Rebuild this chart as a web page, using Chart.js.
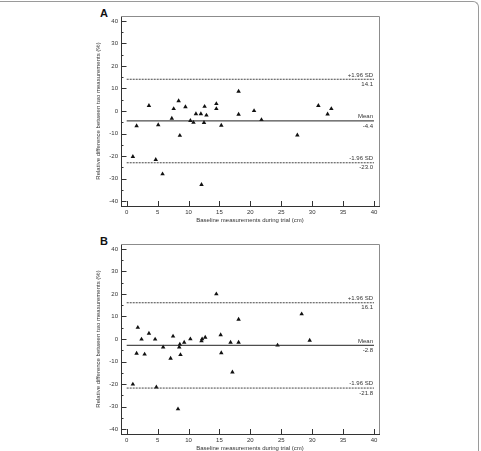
<!DOCTYPE html>
<html>
<head>
<meta charset="utf-8">
<script src="https://cdn.jsdelivr.net/npm/chart.js@4"></script>
<style>
    body { margin: 0; width: 481px; height: 451px; overflow: hidden; position: relative; background: #fff; font-family: "Liberation Sans", Arial, sans-serif; }
    .marco { position: absolute; left: -6px; top: 1px; width: 485px; height: 470px; border-top: 1px solid #9a9a9a; border-right: 1px solid #9a9a9a; border-top-right-radius: 6px; box-sizing: border-box; }
    canvas { position: absolute; left: 0; }
    .letra { position: absolute; left: 100px; font-weight: bold; font-size: 11px; line-height: 11px; color: #111; }
</style>
</head>
<body>
<div class="marco"></div>
<div class="letra" style="top:8px">A</div>
<canvas id="chartA" width="481" height="223" style="top:0"></canvas>
<div class="letra" style="top:236px">B</div>
<canvas id="chartB" width="481" height="223" style="top:228px"></canvas>
<script>
// Panel A
const aX = [1.0, 1.6, 3.6, 4.7, 5.1, 5.8, 7.3, 7.6, 8.4, 8.6, 9.5, 10.3, 10.8, 11.2, 12.0, 12.1, 12.5, 12.6, 12.9, 14.5, 14.5, 15.3, 18.1, 18.1, 20.6, 21.8, 27.6, 31.0, 32.5, 33.1];
const aY = [-20.3, -6.6, 2.4, -21.6, -6.2, -28.0, -3.3, 1.0, 4.5, -10.9, 1.8, -4.3, -5.1, -1.3, -1.3, -32.7, -5.2, 2.0, -1.9, 3.2, 1.0, -6.4, 8.7, -1.5, 0.1, -3.9, -10.7, 2.4, -1.4, 1.0];
const aLimits = [14.1, -4.4, -23.0];

// Panel B
const bX = [1.0, 1.6, 1.8, 2.4, 2.9, 3.6, 4.6, 4.8, 5.9, 7.1, 7.5, 8.3, 8.5, 8.6, 8.7, 9.3, 10.3, 12.1, 12.2, 12.7, 14.5, 15.2, 15.3, 16.8, 17.1, 18.1, 18.1, 24.4, 28.3, 29.6];
const bY = [-20.1, -6.4, 5.1, -0.1, -6.8, 2.5, -0.1, -21.4, -3.6, -8.6, 1.2, -31.1, -3.6, -2.4, -7.0, -1.5, 0.0, -0.9, 0.0, 0.7, 20.0, 1.8, -6.2, -1.5, -14.7, -1.5, 8.7, -2.8, 11.1, -0.6];
const bLimits = [16.1, -2.8, -21.8];

const limitNames = ["+1.96 SD", "Mean", "-1.96 SD"];
const xTicks = [0, 5, 10, 15, 20, 25, 30, 35, 40];
const yTicks = [-40, -30, -20, -10, 0, 10, 20, 30, 40];
const yMinorTicks = [-35, -25, -15, -5, 5, 15, 25, 35];
const xTitle = "Baseline measurements during trial (cm)";
const yTitle = "Relative difference between two measurements (%)";

const fam = "'Liberation Sans', Arial, sans-serif";

// marco gris, ticks hacia dentro y etiquetas de las lineas
const marcoPlugin = {
    id: "marco",
    afterDatasetsDraw(chart) {
        const { ctx, chartArea: ca, scales: { x, y } } = chart;
        ctx.save();
        ctx.strokeStyle = "#8c8c8c";
        ctx.lineWidth = 1;
        ctx.beginPath();
        ctx.moveTo(ca.left, ca.top + 0.5);
        ctx.lineTo(ca.right + 0.5, ca.top + 0.5);
        ctx.lineTo(ca.right + 0.5, ca.bottom);
        ctx.stroke();

        ctx.strokeStyle = "#333";
        ctx.beginPath();
        yTicks.forEach(v => {
            const py = Math.round(y.getPixelForValue(v)) + 0.5;
            ctx.moveTo(ca.left, py);
            ctx.lineTo(ca.left + 5.5, py);
        });
        yMinorTicks.forEach(v => {
            const py = Math.round(y.getPixelForValue(v)) + 0.5;
            ctx.moveTo(ca.left, py);
            ctx.lineTo(ca.left + 2.5, py);
        });
        xTicks.forEach(v => {
            const px = Math.round(x.getPixelForValue(v)) + 0.5;
            ctx.moveTo(px, ca.bottom);
            ctx.lineTo(px, ca.bottom - 5);
        });
        ctx.stroke();

        const limits = chart.options.plugins.marco.limits;
        ctx.fillStyle = "#333";
        ctx.font = "6px " + fam;
        ctx.textAlign = "right";
        ctx.textBaseline = "middle";
        const px = x.getPixelForValue(40) - 1;
        limits.forEach((v, i) => {
            const py = y.getPixelForValue(v);
            ctx.fillText(limitNames[i], px, py - 4.3);
            ctx.fillText(v.toFixed(1), px, py + 5);
        });
        ctx.restore();
    }
};

function crearGrafica(id, xs, ys, limits) {
    const puntos = xs.map((v, i) => ({ x: v, y: ys[i] }));
    const linea = (v, dash, color) => ({
        type: "line",
        data: [{ x: 0, y: v }, { x: 40, y: v }],
        borderColor: color,
        borderWidth: 1,
        borderDash: dash,
        pointRadius: 0,
        fill: false
    });

    return new Chart(document.getElementById(id), {
        type: "scatter",
        data: {
            datasets: [
                linea(limits[0], [2, 1], "#444"),
                linea(limits[1], [], "#222"),
                linea(limits[2], [2, 1], "#444"),
                {
                    data: puntos,
                    pointStyle: "triangle",
                    pointRadius: 2.6,
                    backgroundColor: "#111",
                    borderColor: "#111",
                    borderWidth: 0
                }
            ]
        },
        options: {
            responsive: false,
            animation: false,
            devicePixelRatio: 1,
            layout: { padding: { left: 90, right: 102, top: 16, bottom: 0 } },
            plugins: {
                legend: { display: false },
                tooltip: { enabled: false },
                marco: { limits }
            },
            scales: {
                x: {
                    type: "linear",
                    min: -0.92,
                    max: 40.81,
                    grid: { display: false, drawTicks: false },
                    border: { color: "#333", width: 1 },
                    ticks: { padding: 3, color: "#333", font: { size: 6, family: fam }, autoSkip: false, maxRotation: 0 },
                    afterBuildTicks: s => { s.ticks = xTicks.map(v => ({ value: v })); },
                    afterFit: s => { s.height = 17; },
                    title: { display: true, text: xTitle, color: "#333", font: { size: 6, family: fam, lineHeight: 1 }, padding: { top: 0, bottom: 0 } }
                },
                y: {
                    type: "linear",
                    min: -42.2,
                    max: 42.2,
                    grid: { display: false, drawTicks: false },
                    border: { color: "#333", width: 1 },
                    ticks: { padding: 3, color: "#333", font: { size: 6, family: fam }, autoSkip: false },
                    afterBuildTicks: s => { s.ticks = yTicks.map(v => ({ value: v })); },
                    afterFit: s => { s.width = 31; },
                    title: { display: true, text: yTitle, color: "#333", font: { size: 6, family: fam, lineHeight: 1.2 }, padding: { top: 5, bottom: 0 } }
                }
            }
        },
        plugins: [marcoPlugin]
    });
}

crearGrafica("chartA", aX, aY, aLimits);
crearGrafica("chartB", bX, bY, bLimits);
</script>
</body>
</html>
